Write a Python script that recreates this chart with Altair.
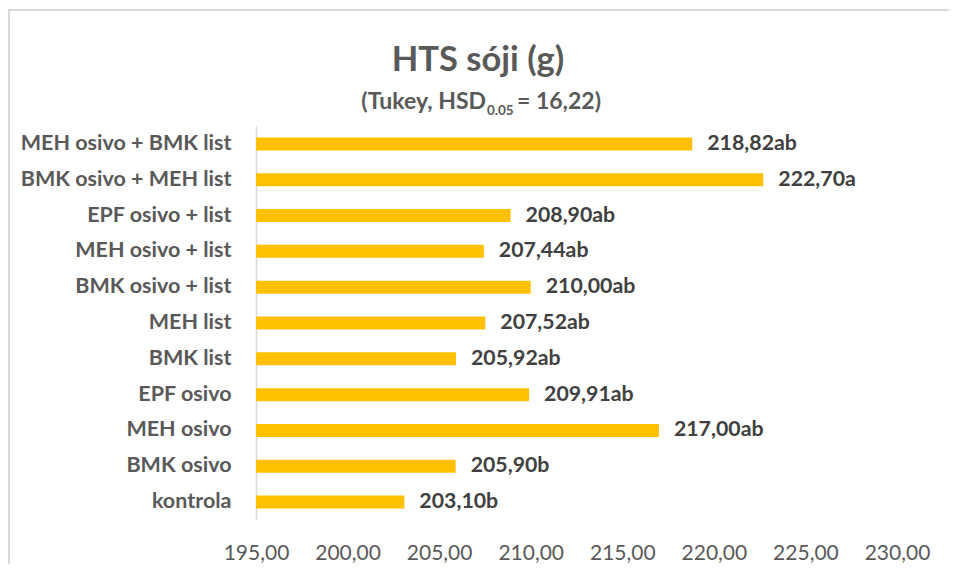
import altair as alt
import pandas as pd

categories = ["MEH osivo + BMK list", "BMK osivo + MEH list", "EPF osivo + list",
              "MEH osivo + list", "BMK osivo + list", "MEH list", "BMK list",
              "EPF osivo", "MEH osivo", "BMK osivo", "kontrola"]
values = [218.82, 222.70, 208.90, 207.44, 210.00, 207.52, 205.92, 209.91, 217.00, 205.90, 203.10]
letters = ["ab", "a", "ab", "ab", "ab", "ab", "ab", "ab", "ab", "b", "b"]
tick_values = [195, 200, 205, 210, 215, 220, 225, 230]

df = pd.DataFrame({
    "cat": categories,
    "val": values,
    "lab": [f"{v:.2f}".replace(".", ",") + l for v, l in zip(values, letters)],
})

FONT = "Lato"
one = pd.DataFrame({"a": [0]})

y_enc = alt.Y("cat:N", sort=categories, title=None,
              axis=alt.Axis(domainColor="#d9d9d9", domainWidth=1.5, ticks=False,
                            labelFont=FONT, labelFontWeight="bold", labelFontSize=21.5,
                            labelColor="#595959", labelPadding=25, labelLimit=400))
x_enc = alt.X("val:Q", title=None,
              scale=alt.Scale(domain=[195, 230], nice=False, zero=False),
              axis=alt.Axis(values=tick_values, domain=False, ticks=False, grid=False,
                            labelFont=FONT, labelFontSize=21, labelColor="#595959",
                            labelPadding=22, labelFlush=False, labelOverlap=False,
                            labelBound=False,
                            labelExpr="replace(format(datum.value, '.2f'), '.', ',')"))

bars = alt.Chart(df).mark_bar(size=13, color="#FFC000").encode(
    y=y_enc, x=x_enc, x2=alt.datum(195))

labels = alt.Chart(df).mark_text(align="left", baseline="middle", dx=15, font=FONT,
                                 fontWeight="bold", fontSize=21.3, color="#404040").encode(
    y=alt.Y("cat:N", sort=categories), x=alt.X("val:Q"), text="lab:N")

border = alt.Chart(one).mark_rect(filled=False, stroke="#d9d9d9", strokeWidth=2).encode(
    x=alt.value(-247), x2=alt.value(720), y=alt.value(-116), y2=alt.value(470))

def txt(t, x, y, size, align="left"):
    return alt.Chart(one).mark_text(text=t, align=align, baseline="alphabetic", font=FONT,
                                    fontWeight="bold", fontSize=size, color="#595959").encode(
        x=alt.value(x), y=alt.value(y))

title = txt("HTS sóji (g)", 222, -55, 34.5, "center")
sub1 = txt("(Tukey, HSD", 230, -17, 23, "right")
sub2 = txt("0.05", 231, -11, 13.5, "left")
sub3 = txt("= 16,22)", 261, -17, 23, "left")

chart = alt.layer(border, bars, labels, title, sub1, sub2, sub3).properties(
    width=641, height=394,
    autosize=alt.AutoSizeParams(type="none"),
    padding={"left": 248, "top": 118, "right": 52, "bottom": 44},
).configure_view(strokeWidth=0, stroke=None)

chart.save("out.html", embed_options={"renderer": "svg", "actions": False})
